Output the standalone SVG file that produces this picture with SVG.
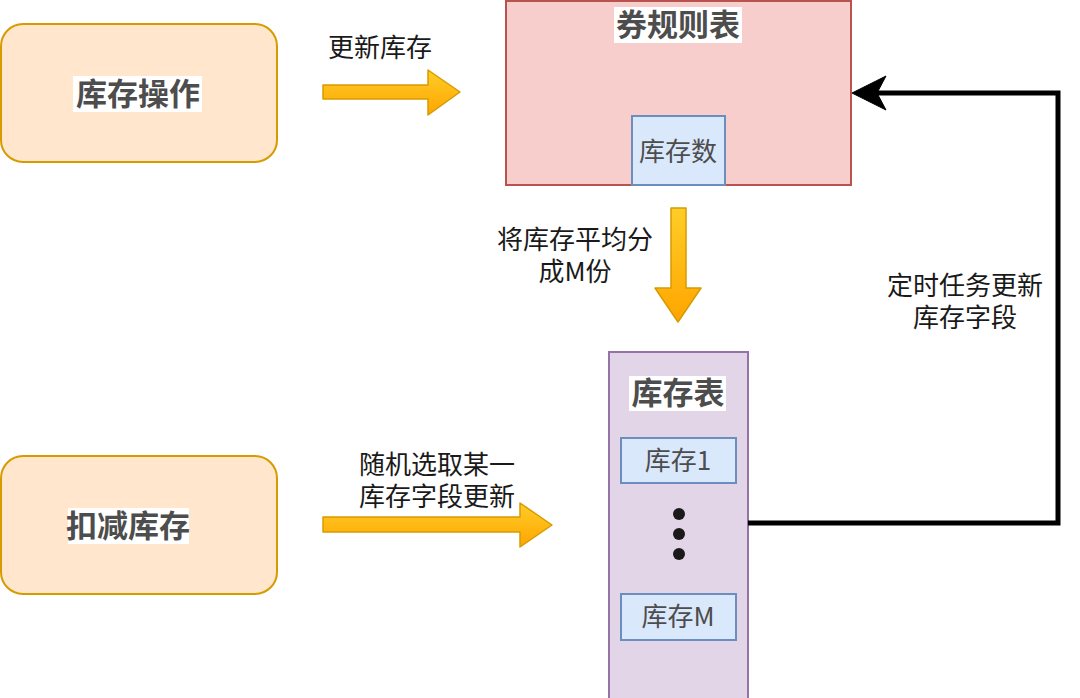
<svg xmlns="http://www.w3.org/2000/svg" width="1080" height="698" viewBox="0 0 1080 698">
<defs>
<linearGradient id="gy" x1="0" y1="0" x2="0" y2="1"><stop offset="0" stop-color="#ffcd28"/><stop offset="1" stop-color="#ffa500"/></linearGradient>
<style>
.op{fill:#ffe6cc;stroke:#d79b00;stroke-width:2}
.fld{fill:#dae8fc;stroke:#6c8ebf;stroke-width:2}
.ttl{font-family:"Noto Sans CJK SC","Liberation Sans",sans-serif;font-weight:bold;font-size:31px;fill:#4d4d4d;text-anchor:middle}
.lbl{font-family:"Noto Sans CJK SC","Liberation Sans",sans-serif;font-size:26px;fill:#1a1a1a;text-anchor:middle}
.fl{font-family:"Noto Sans CJK SC","Liberation Sans",sans-serif;font-size:26px;fill:#4d4d4d;text-anchor:middle}
.arr{fill:url(#gy);stroke:#d79b00;stroke-width:1.5;stroke-linejoin:round}
</style>
</defs>
<g id="op1">
<rect class="op" x="1" y="24" width="276" height="138" rx="22"/>
<rect x="73" y="76" width="129" height="36" fill="#fff"/>
<text class="ttl" x="138" y="105">库存操作</text>
</g>
<g id="op2">
<rect class="op" x="1" y="456" width="276" height="138" rx="22"/>
<rect x="68" y="508" width="121" height="36" fill="#fff"/>
<text class="ttl" x="128" y="537">扣减库存</text>
</g>
<g id="rule">
<rect x="506" y="1" width="345" height="184" fill="#f8cecc" stroke="#b85450" stroke-width="2"/>
<rect x="614" y="7" width="128" height="36" fill="#fff"/>
<text class="ttl" x="678" y="36">券规则表</text>
<g id="stock-count">
<rect class="fld" x="632" y="116" width="93" height="69"/>
<text class="fl" x="678" y="161">库存数</text>
</g>
</g>
<g id="stock-table">
<rect x="609" y="352" width="139" height="350" fill="#e1d5e7" stroke="#9673a6" stroke-width="2"/>
<rect x="629" y="376" width="97" height="35" fill="#fff"/>
<text class="ttl" x="678" y="404">库存表</text>
<g id="stock1">
<rect class="fld" x="621" y="438" width="115" height="45"/>
<text class="fl" x="678" y="470">库存1</text>
</g>
<circle cx="679" cy="514" r="6" fill="#1a1a1a"/>
<circle cx="679" cy="534" r="6" fill="#1a1a1a"/>
<circle cx="679" cy="554" r="6" fill="#1a1a1a"/>
<g id="stockM">
<rect class="fld" x="621" y="594" width="115" height="46"/>
<text class="fl" x="678" y="626">库存M</text>
</g>
</g>
<g id="connectors">
<path class="arr" d="M323,85 L428,85 L428,70 L460,92 L428,115 L428,99 L323,99 Z"/>
<path class="arr" d="M323,517 L520,517 L520,503 L552,525 L520,547 L520,532 L323,532 Z"/>
<path class="arr" d="M671,208 L686,208 L686,288 L701,288 L678,322 L655,288 L671,288 Z"/>
<path d="M748,523 L1058,523 L1058,93 L870,93" fill="none" stroke="#000" stroke-width="5"/>
<path d="M852,93 L886,76 L877,93 L886,110 Z" fill="#000" stroke="#000" stroke-width="1" stroke-linejoin="miter"/>
<text class="lbl" x="380" y="57">更新库存</text>
<text class="lbl" x="575" y="249">将库存平均分</text>
<text class="lbl" x="575" y="281">成M份</text>
<text class="lbl" x="437" y="474">随机选取某一</text>
<text class="lbl" x="437" y="506">库存字段更新</text>
<text class="lbl" x="965" y="295">定时任务更新</text>
<text class="lbl" x="965" y="327">库存字段</text>
</g>
</svg>
